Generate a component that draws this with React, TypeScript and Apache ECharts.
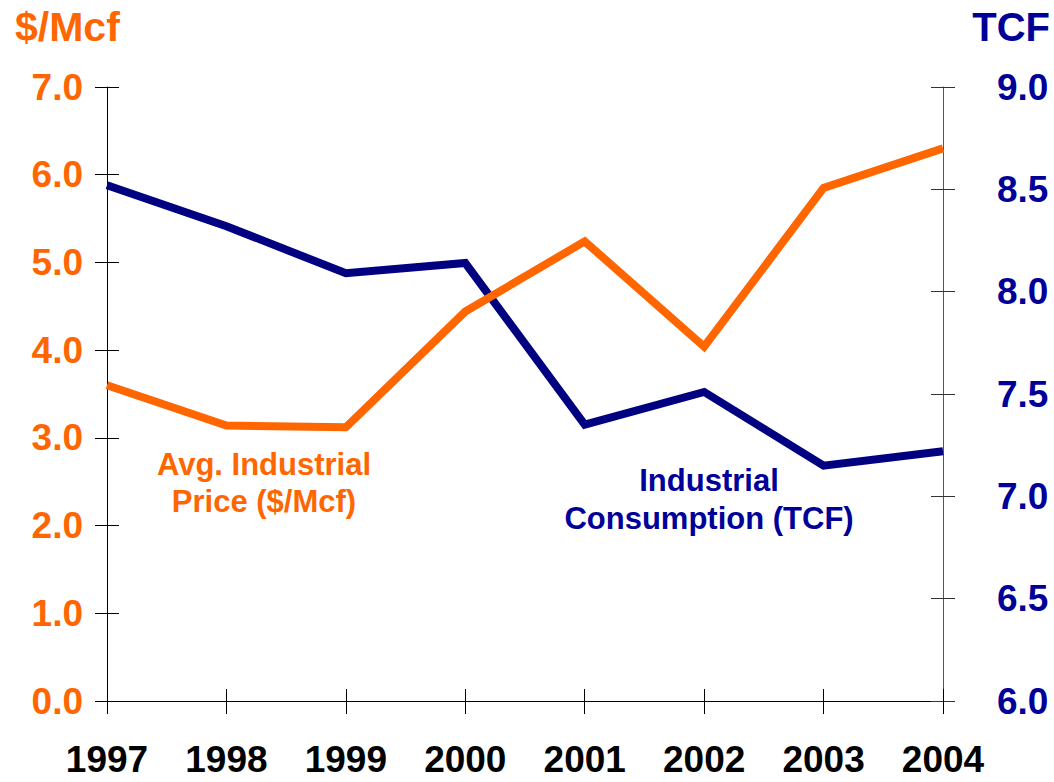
import React, { useEffect, useRef } from "react";
import * as echarts from "echarts";

const years = ["1997", "1998", "1999", "2000", "2001", "2002", "2003", "2004"];
const priceValues = [3.6, 3.14, 3.12, 4.44, 5.24, 4.04, 5.85, 6.3];
const consumptionValues = [8.52, 8.32, 8.09, 8.14, 7.35, 7.51, 7.15, 7.22];
const priceTitle = "$/Mcf";
const consumptionTitle = "TCF";
const priceLabel = "Avg. Industrial\nPrice ($/Mcf)";
const consumptionLabel = "Industrial\nConsumption (TCF)";

const ORANGE = "#FF6600";
const NAVY = "#000080";
const NAVY_TEXT = "#000099";
const FONT = "Liberation Sans, Arial, sans-serif";

export default function App() {
  const ref = useRef<HTMLDivElement>(null);
  useEffect(() => {
    if (!ref.current) return;
    const chart = echarts.init(ref.current, null, { renderer: "svg" });
    const hiddenY = (pos: "left" | "right", min: number, max: number, interval: number, color: string) => ({
      type: "value",
      position: pos,
      min,
      max,
      interval,
      axisLine: { show: false },
      axisLabel: { show: false },
      splitLine: { show: false },
      axisTick: { show: true, inside: true, length: 12, lineStyle: { color, width: 1 } },
    });
    chart.setOption({
      animation: false,
      backgroundColor: "#fff",
      grid: { left: 107, right: 111, top: 87, bottom: 81, containLabel: false },
      xAxis: [
        {
          type: "category",
          data: years,
          boundaryGap: false,
          position: "bottom",
          axisLine: { show: true, lineStyle: { color: "#000", width: 1 } },
          axisTick: { show: true, length: 13, lineStyle: { color: "#000", width: 1 } },
          axisLabel: {
            color: "#000",
            fontFamily: FONT,
            fontWeight: "bold",
            fontSize: 37,
            margin: 40,
          },
          splitLine: { show: false },
        },
        {
          type: "category",
          data: years,
          boundaryGap: false,
          position: "bottom",
          offset: 0,
          axisLine: { show: false },
          axisLabel: { show: false },
          axisTick: { show: true, inside: true, length: 12, lineStyle: { color: "#000", width: 1 } },
          splitLine: { show: false },
        },
      ],
      yAxis: [
        {
          type: "value",
          position: "left",
          min: 0,
          max: 7,
          interval: 1,
          axisLine: { show: true, lineStyle: { color: "#000", width: 1 } },
          axisTick: { show: true, length: 12, lineStyle: { color: "#000", width: 1 } },
          axisLabel: {
            color: ORANGE,
            fontFamily: FONT,
            fontWeight: "bold",
            fontSize: 37,
            margin: 24,
            formatter: (v: number) => v.toFixed(1),
          },
          splitLine: { show: false },
        },
        {
          type: "value",
          position: "right",
          min: 6,
          max: 9,
          interval: 0.5,
          axisLine: { show: true, lineStyle: { color: "#555", width: 1 } },
          axisTick: { show: true, length: 12, lineStyle: { color: "#333", width: 1 } },
          axisLabel: {
            color: NAVY_TEXT,
            fontFamily: FONT,
            fontWeight: "bold",
            fontSize: 37,
            margin: 54,
            formatter: (v: number) => v.toFixed(1),
          },
          splitLine: { show: false },
        },
        hiddenY("left", 0, 7, 1, "#000"),
        hiddenY("right", 6, 9, 0.5, "#333"),
      ],
      series: [
        {
          type: "line",
          data: priceValues,
          xAxisIndex: 0,
          yAxisIndex: 0,
          symbol: "none",
          lineStyle: { color: ORANGE, width: 8, cap: "butt", join: "miter" },
          z: 3,
        },
        {
          type: "line",
          data: consumptionValues,
          xAxisIndex: 0,
          yAxisIndex: 1,
          symbol: "none",
          lineStyle: { color: NAVY, width: 8, cap: "butt", join: "miter" },
          z: 2,
        },
      ],
      graphic: [
        {
          type: "text",
          x: 15,
          y: 27,
          style: {
            text: priceTitle,
            fill: ORANGE,
            fontFamily: FONT,
            fontWeight: "bold",
            fontSize: 41,
            align: "left",
            verticalAlign: "middle",
          },
        },
        {
          type: "text",
          x: 1050,
          y: 27,
          style: {
            text: consumptionTitle,
            fill: NAVY_TEXT,
            fontFamily: FONT,
            fontWeight: "bold",
            fontSize: 40,
            align: "right",
            verticalAlign: "middle",
          },
        },
        {
          type: "text",
          x: 264,
          y: 446,
          style: {
            text: priceLabel,
            fill: ORANGE,
            fontFamily: FONT,
            fontWeight: "bold",
            fontSize: 31,
            align: "center",
            lineHeight: 37,
          },
        },
        {
          type: "text",
          x: 709,
          y: 461,
          style: {
            text: consumptionLabel,
            fill: NAVY_TEXT,
            fontFamily: FONT,
            fontWeight: "bold",
            fontSize: 31,
            align: "center",
            lineHeight: 38,
          },
        },
      ],
    });
    return () => chart.dispose();
  }, []);
  return (
    <div
      ref={ref}
      style={{ position: "fixed", left: 0, top: 0, width: 1054, height: 782, background: "#fff" }}
    />
  );
}
